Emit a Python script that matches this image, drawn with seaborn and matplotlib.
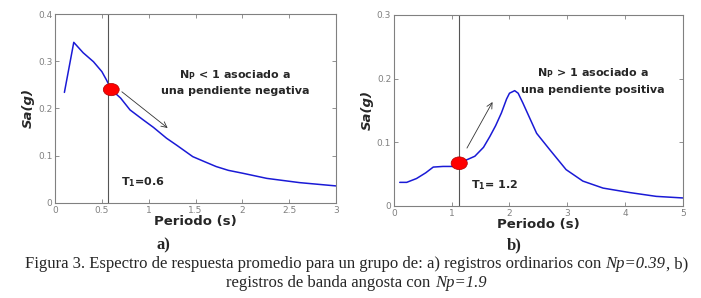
import numpy as np
import pandas as pd
import matplotlib
matplotlib.use("Agg")
import matplotlib.pyplot as plt
from matplotlib.patches import Ellipse
import seaborn as sns

# ---- data ----
period_a = [0.1, 0.2, 0.3, 0.41, 0.5, 0.55, 0.6, 0.7, 0.8, 0.94, 1.05, 1.19, 1.3, 1.47, 1.6, 1.72, 1.85, 2.0, 2.26, 2.61, 3.0]
sa_a = [0.234, 0.340, 0.318, 0.299, 0.278, 0.260, 0.240, 0.222, 0.197, 0.176, 0.160, 0.137, 0.122, 0.098, 0.087, 0.077, 0.069, 0.063, 0.052, 0.043, 0.036]
period_b = [0.1, 0.22, 0.39, 0.55, 0.68, 0.85, 0.97, 1.08, 1.13, 1.25, 1.4, 1.55, 1.66, 1.76, 1.86, 1.95, 2.0, 2.09, 2.15, 2.23, 2.35, 2.47, 2.7, 2.98, 3.27, 3.62, 4.08, 4.54, 5.0]
sa_b = [0.037, 0.037, 0.043, 0.052, 0.061, 0.062, 0.062, 0.062, 0.067, 0.072, 0.078, 0.092, 0.109, 0.126, 0.146, 0.168, 0.177, 0.181, 0.177, 0.162, 0.138, 0.114, 0.088, 0.057, 0.039, 0.028, 0.021, 0.015, 0.0125]
t1_a, sa_t1_a = 0.6, 0.240
t1_b, sa_t1_b = 1.13, 0.067
vline_a = 0.57
xticks_a = [0, 0.5, 1, 1.5, 2, 2.5, 3]
xtick_labels_a = ["0", "0.5", "1", "1.5", "2", "2.5", "3"]
yticks_a = [0, 0.1, 0.2, 0.3, 0.4]
ytick_labels_a = ["0", "0.1", "0.2", "0.3", "0.4"]
xticks_b = [0, 1, 2, 3, 4, 5]
xtick_labels_b = ["0", "1", "2", "3", "4", "5"]
yticks_b = [0, 0.1, 0.2, 0.3]
ytick_labels_b = ["0", "0.1", "0.2", "0.3"]
caption_line1 = [("Figura 3. Espectro de respuesta promedio para un grupo de: a) registros ordinarios con ", "normal"),
                 ("Np=0.39", "italic"), (", b)", "normal")]
caption_line2 = [("registros de banda angosta con ", "normal"), ("Np=1.9", "italic")]

sns.set_style("white")
plt.rcParams['font.family'] = ['DejaVu Sans']

fig = plt.figure(figsize=(7.01, 2.98), dpi=100)
ax1 = fig.add_axes([0.0785, 0.319, 0.401, 0.634])
ax2 = fig.add_axes([0.562, 0.309, 0.412, 0.641])

line_color = "#1a1ad6"
gray = "#808080"

df_a = pd.DataFrame({"Periodo": period_a, "Sa": sa_a})
df_b = pd.DataFrame({"Periodo": period_b, "Sa": sa_b})
sns.lineplot(data=df_a, x="Periodo", y="Sa", ax=ax1, color=line_color, lw=1.1, sort=False)
sns.lineplot(data=df_b, x="Periodo", y="Sa", ax=ax2, color=line_color, lw=1.1, sort=False)

def style(ax, xlim, ylim, xt, xtl, yt, ytl):
    ax.set_xlim(*xlim)
    ax.set_ylim(*ylim)
    ax.set_xticks(xt)
    ax.set_xticklabels(xtl)
    ax.set_yticks(yt)
    ax.set_yticklabels(ytl)
    ax.tick_params(direction="in", length=3, width=0.6, colors=gray, labelsize=6.5,
                   top=True, right=True, bottom=True, left=True, pad=2)
    for s in ax.spines.values():
        s.set_visible(True)
        s.set_color(gray)
        s.set_linewidth(0.8)
    ax.set_xlabel("Periodo (s)", fontsize=9.5, fontweight="bold", labelpad=0)
    ax.set_ylabel("Sa(g)", fontsize=9.5, fontweight="bold", style="italic", labelpad=2)

style(ax1, (0, 3), (0, 0.4), xticks_a, xtick_labels_a, yticks_a, ytick_labels_a)
style(ax2, (0, 5), (0, 0.3), xticks_b, xtick_labels_b, yticks_b, ytick_labels_b)

# vertical lines
ax1.axvline(vline_a, color="#555555", lw=0.8)
ax2.axvline(t1_b, color="#555555", lw=0.8)

# red markers
ax1.add_patch(Ellipse((t1_a, sa_t1_a), width=0.17, height=0.026, color="red", ec="#b00000", lw=0.5, zorder=5))
ax2.add_patch(Ellipse((t1_b, sa_t1_b), width=0.28, height=0.02, color="red", ec="#b00000", lw=0.5, zorder=5))

# arrows
ax1.annotate("", xy=(1.225, 0.155), xytext=(0.69, 0.239),
             arrowprops=dict(arrowstyle="->", color="#333333", lw=0.6))
ax2.annotate("", xy=(1.73, 0.167), xytext=(1.24, 0.087),
             arrowprops=dict(arrowstyle="->", color="#333333", lw=0.6))

# annotations
ax1.text(1.92, 0.271, r"N$_{\mathregular{P}}$ < 1 asociado a", ha="center", va="center",
         fontsize=8, fontweight="bold")
ax1.text(1.92, 0.236, "una pendiente negativa", ha="center", va="center",
         fontsize=8, fontweight="bold")
ax1.text(0.7, 0.045, r"T$_{\mathregular{1}}$=0.6", ha="left", va="center", fontsize=8, fontweight="bold")

ax2.text(3.44, 0.209, r"N$_{\mathregular{P}}$ > 1 asociado a", ha="center", va="center",
         fontsize=8, fontweight="bold")
ax2.text(3.44, 0.182, "una pendiente positiva", ha="center", va="center",
         fontsize=8, fontweight="bold")
ax2.text(1.33, 0.033, r"T$_{\mathregular{1}}$= 1.2", ha="left", va="center", fontsize=8, fontweight="bold")

# panel letters and caption
fig.text(163/701, 1 - 245/298, "a)", ha="center", va="center", fontsize=12,
         fontweight="bold", family="Liberation Serif")
fig.text(514/701, 1 - 245/298, "b)", ha="center", va="center", fontsize=12,
         fontweight="bold", family="Liberation Serif")

def caption(pieces, y_px, center_px=356.5, size=12):
    renderer = fig.canvas.get_renderer()
    texts = [fig.text(0, 1 - y_px/298, s, fontsize=size, style=st, family="Liberation Serif",
                      va="center", ha="left") for s, st in pieces]
    widths = [t.get_window_extent(renderer).width for t in texts]
    total = sum(widths)
    x = center_px - total / 2
    for t, w in zip(texts, widths):
        t.set_x(x / fig.bbox.width)
        x += w

caption(caption_line1, 264)
caption(caption_line2, 283)

fig.savefig("out.png", dpi=100)
